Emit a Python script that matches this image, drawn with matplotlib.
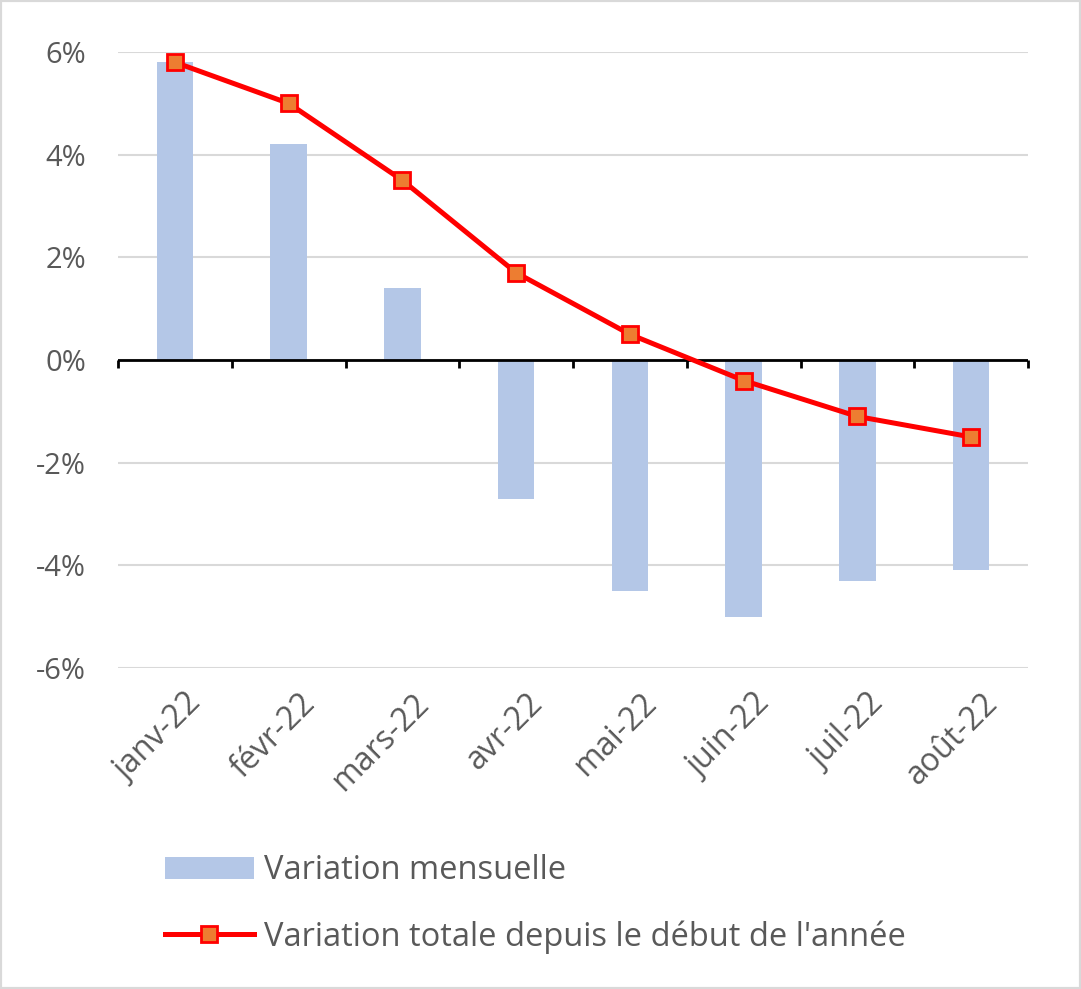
import matplotlib
matplotlib.use("Agg")
import matplotlib.pyplot as plt
from matplotlib.patches import Rectangle
import numpy as np

plt.rcParams['font.family'] = ['Open Sans', 'DejaVu Sans']

months = ["janv-22", "févr-22", "mars-22", "avr-22", "mai-22", "juin-22", "juil-22", "août-22"]
monthly = [5.8, 4.2, 1.4, -2.7, -4.5, -5.0, -4.3, -4.1]
cumulative = [5.8, 5.0, 3.5, 1.7, 0.5, -0.4, -1.1, -1.5]
yticks = [-6, -4, -2, 0, 2, 4, 6]
ytick_labels = ["-6%", "-4%", "-2%", "0%", "2%", "4%", "6%"]

text_color = "#595959"
fig = plt.figure(figsize=(10.81, 9.89), dpi=100)
ax = fig.add_axes([0.1092, 0.3246, 0.951 - 0.1092, 0.9474 - 0.3246])

x = np.arange(len(months))
bars = ax.bar(x, monthly, width=0.32, color="#B4C7E7", label="Variation mensuelle", zorder=2)
line, = ax.plot(x, cumulative, color="#FF0000", lw=3.6, marker="s", markersize=11,
                markerfacecolor="#ED7D31", markeredgecolor="#FF0000", markeredgewidth=2,
                label="Variation totale depuis le début de l'année", zorder=4)

ax.set_xlim(-0.5, len(months) - 0.5)
ax.set_ylim(-6, 6)
ax.set_yticks(yticks)
ax.set_yticklabels(ytick_labels, fontsize=21, color=text_color)
ax.tick_params(axis='y', length=0, pad=23)
ax.grid(axis='y', color="#D9D9D9", lw=1.5, zorder=0)
ax.set_axisbelow(True)
for s in ax.spines.values():
    s.set_visible(False)

ax.axhline(0, color="black", lw=2, zorder=3)
ax.set_xticks([])
for b in np.arange(-0.5, len(months), 1.0):
    ax.plot([b, b], [0, -0.15], color="black", lw=2, zorder=3, clip_on=False,
            solid_capstyle='butt')

for i, m in enumerate(months):
    ax.annotate(m, xy=(i, -6), xycoords='data', xytext=(16, -22), textcoords='offset points',
                rotation=45, ha='right', va='center', rotation_mode='anchor',
                fontsize=23, color=text_color, annotation_clip=False)

leg = fig.legend([bars, line], [bars.get_label(), line.get_label()],
                 loc='center left', bbox_to_anchor=(0.153, 0.086), frameon=False,
                 fontsize=23.5, handlelength=2.7, handletextpad=0.32, labelspacing=1.0,
                 labelcolor=text_color, borderaxespad=0, borderpad=0)

fig.patches.append(Rectangle((0, 0), 1, 1, transform=fig.transFigure, fill=False,
                             edgecolor="#D9D9D9", lw=3))
fig.savefig("out.png", dpi=100)
